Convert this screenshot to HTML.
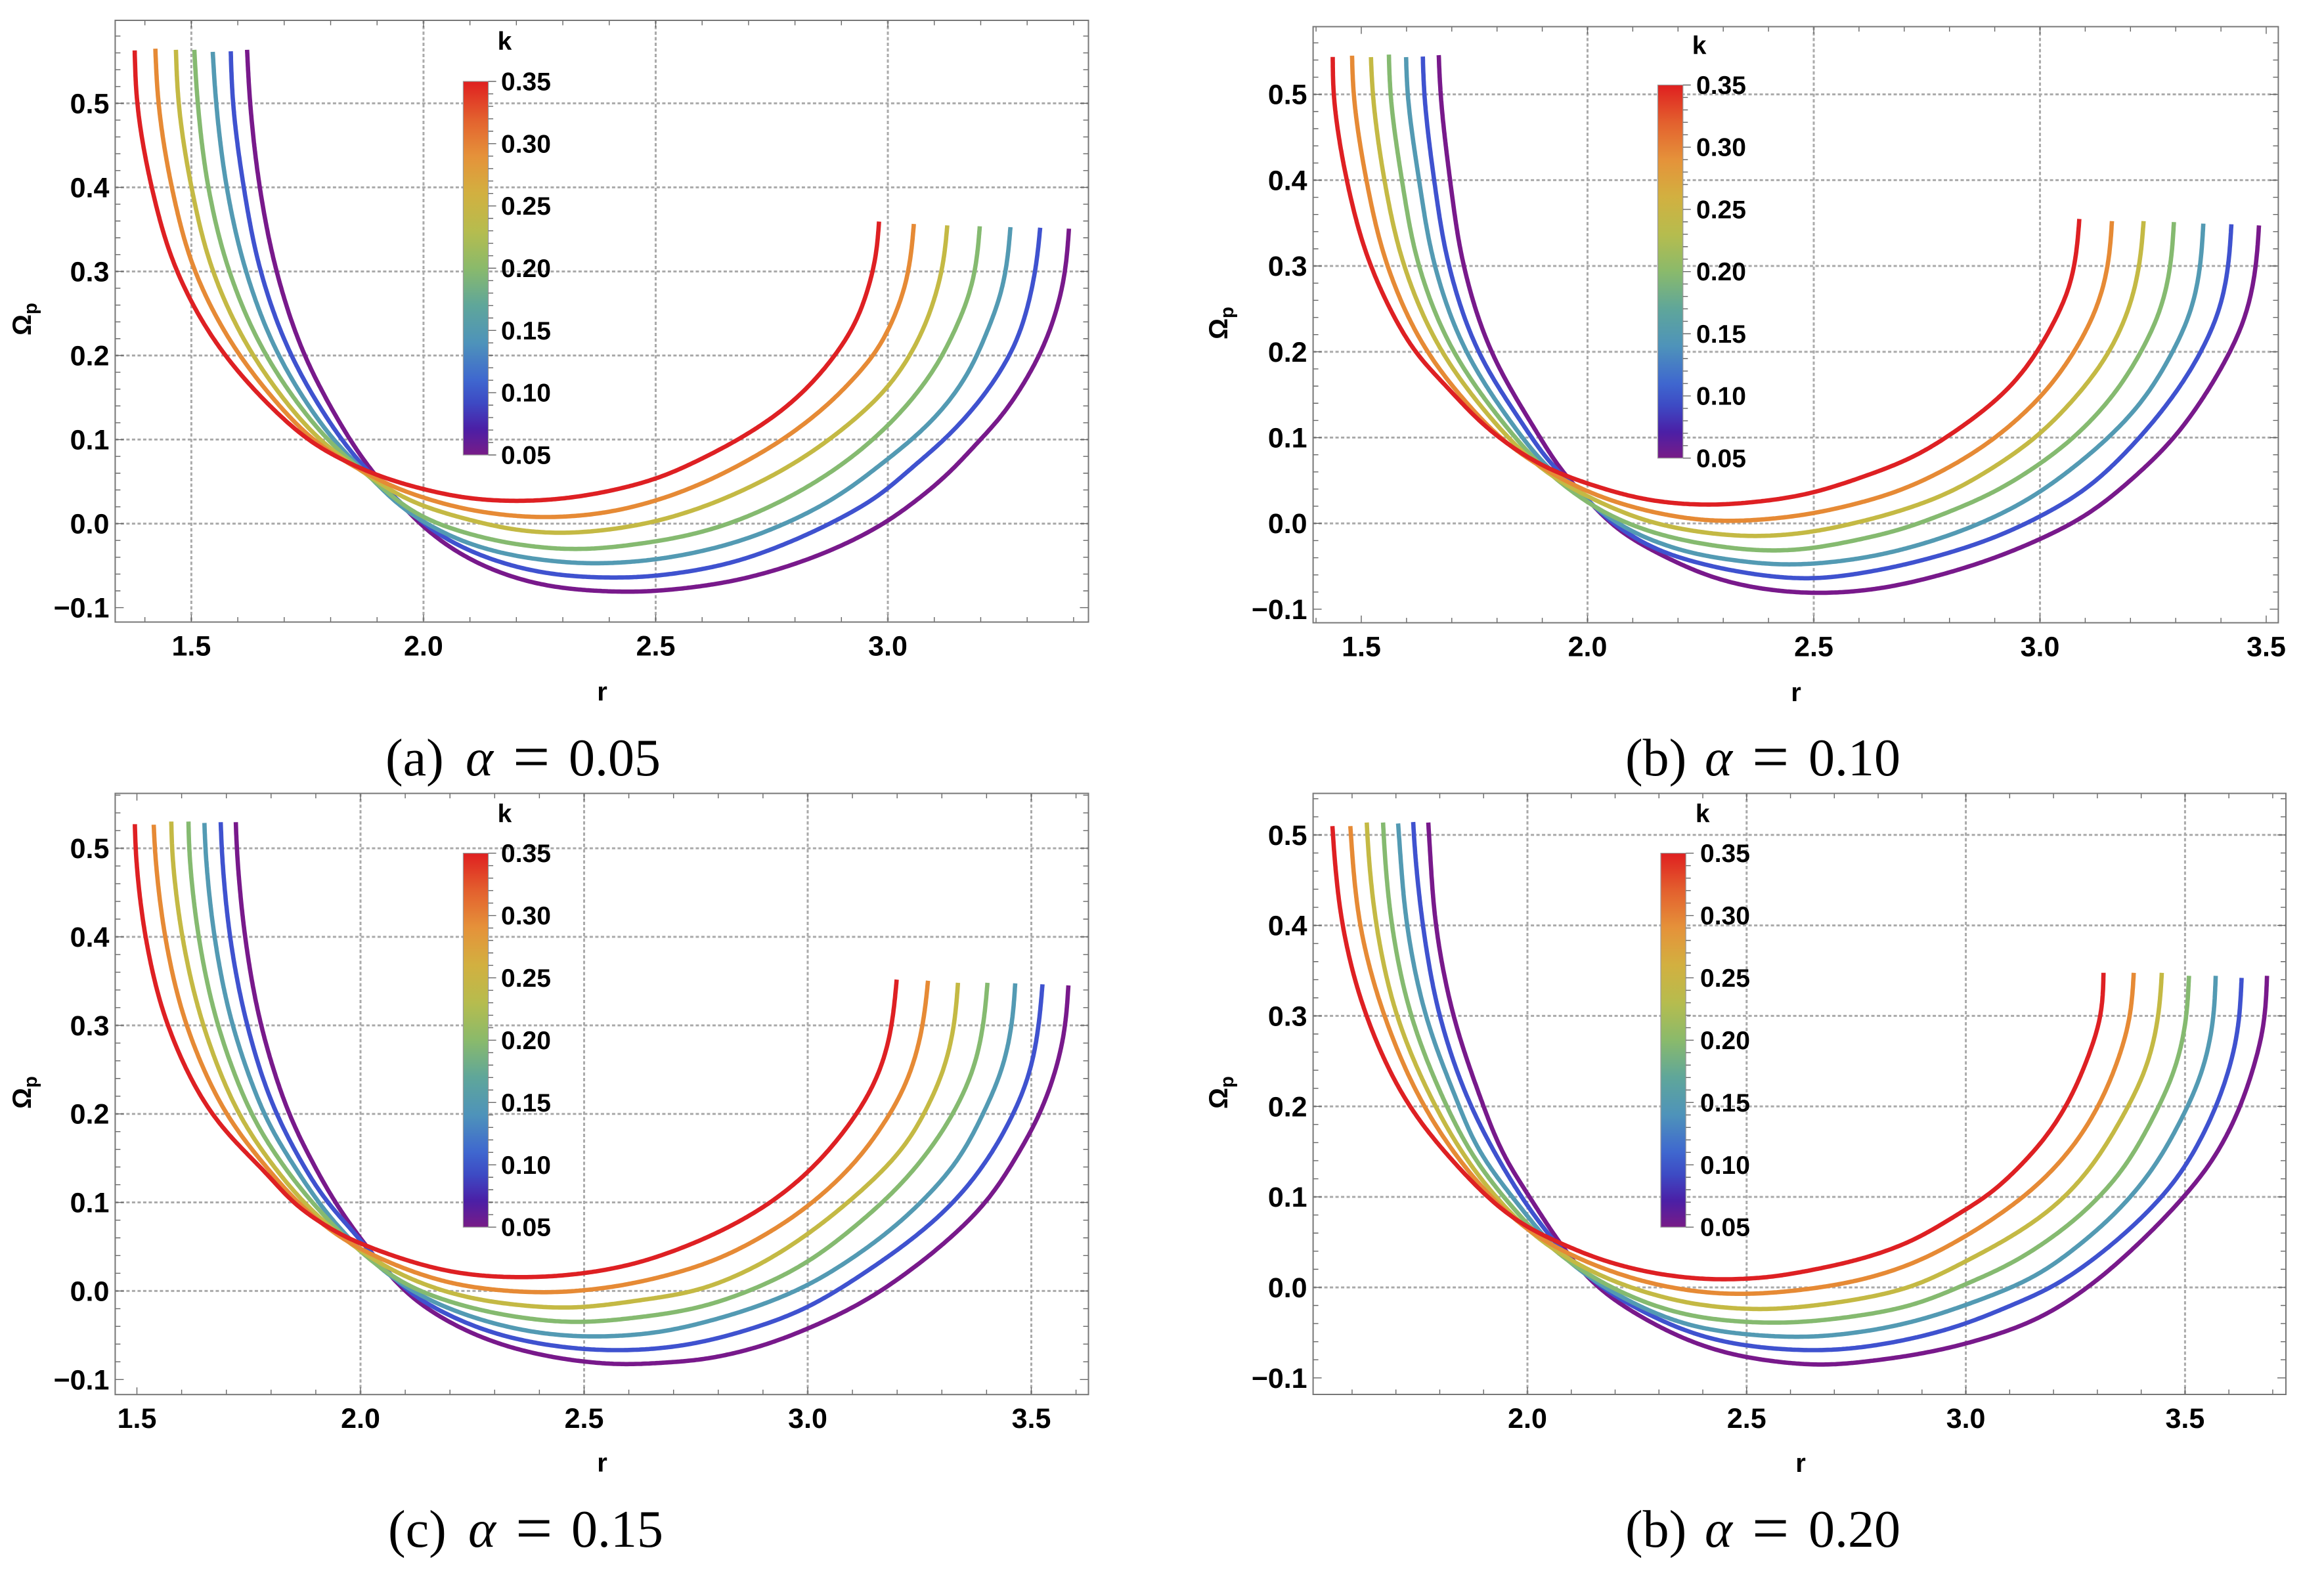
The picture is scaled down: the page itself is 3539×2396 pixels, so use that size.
<!DOCTYPE html>
<html lang="en">
<head>
<meta charset="utf-8">
<title>Omega_p versus r for several alpha values</title>
<style>
html,body{margin:0;padding:0;background:#fff;}
svg{display:block;}
.tick-label{font-family:"Liberation Sans",sans-serif;font-weight:700;font-size:43px;fill:#000;}
.bar-label{font-family:"Liberation Sans",sans-serif;font-weight:700;font-size:39px;fill:#000;}
.axis-label{font-family:"Liberation Sans",sans-serif;font-weight:700;font-size:40px;fill:#000;}
.caption{font-family:"Liberation Serif",serif;font-size:80px;fill:#000;}
.eq{font-size:100px;}
</style>
</head>
<body>
<svg id="figure" xmlns="http://www.w3.org/2000/svg" width="3539" height="2396" viewBox="0 0 3539 2396">
<defs>
<linearGradient id="rainbow" x1="0" y1="0" x2="0" y2="1">
<stop offset="0" stop-color="#DF1F20"/>
<stop offset="0.1" stop-color="#E3602E"/>
<stop offset="0.2" stop-color="#E5923A"/>
<stop offset="0.3" stop-color="#D2B040"/>
<stop offset="0.4" stop-color="#B6BC4E"/>
<stop offset="0.5" stop-color="#8ABA6B"/>
<stop offset="0.6" stop-color="#5FA69A"/>
<stop offset="0.7" stop-color="#4E93BA"/>
<stop offset="0.8" stop-color="#3F67CF"/>
<stop offset="0.86" stop-color="#3D4AC4"/>
<stop offset="0.93" stop-color="#4B1FA6"/>
<stop offset="1" stop-color="#781C87"/>
</linearGradient>
</defs>
<text class="caption" y="1181"><tspan x="587">(a)</tspan><tspan x="709" font-style="italic">α</tspan><tspan class="eq" x="781" dy="5">=</tspan><tspan x="866" dy="-5">0.05</tspan></text>
<text class="caption" y="1181"><tspan x="2475">(b)</tspan><tspan x="2596" font-style="italic">α</tspan><tspan class="eq" x="2668" dy="5">=</tspan><tspan x="2754" dy="-5">0.10</tspan></text>
<text class="caption" y="2356"><tspan x="591">(c)</tspan><tspan x="713" font-style="italic">α</tspan><tspan class="eq" x="785" dy="5">=</tspan><tspan x="870" dy="-5">0.15</tspan></text>
<text class="caption" y="2356"><tspan x="2475">(b)</tspan><tspan x="2596" font-style="italic">α</tspan><tspan class="eq" x="2668" dy="5">=</tspan><tspan x="2754" dy="-5">0.20</tspan></text>
</svg>
<script>
const kValues=[0.05,0.10,0.15,0.20,0.25,0.30,0.35];
const barTicks=[0.05,0.10,0.15,0.20,0.25,0.30,0.35];
const yTicks=[-0.1,0,0.1,0.2,0.3,0.4,0.5];
const yGridA=[0,0.1,0.2,0.3,0.4,0.5];

const xTicksA=[1.5,2,2.5,3];
const xGridA=[1.5,2,2.5,3];
const xTicksB=[1.5,2,2.5,3,3.5];
const xGridB=[2,2.5,3];
const xTicksC=[1.5,2,2.5,3,3.5];
const xGridC=[2,2.5,3,3.5];
const xTicksD=[2,2.5,3,3.5];
const xGridD=[2,2.5,3,3.5];

// Panel A (alpha = 0.05)
const rA05=[1.6201,1.6264,1.6471,1.6832,1.7436,1.8411,1.896,1.95,2.0,2.085,2.185,2.284,2.433,2.502,2.66,2.786,2.894,2.995,3.058,3.134,3.197,3.235,3.292,3.336,3.367,3.383,3.39];
const wA05=[.5636,.5,.4,.3,.2,.1,.057,.024,-.0048,-.0384,-.0627,-.0758,-.0814,-.0803,-.0692,-.0507,-.028,.0009,.026,.0608,.0992,.1202,.1655,.2108,.2596,.3014,.3509];
const rA10=[1.5849,1.5894,1.6128,1.6489,1.7148,1.823,1.896,1.95,2.0,2.085,2.185,2.284,2.413,2.502,2.66,2.786,2.894,2.989,3.039,3.121,3.191,3.241,3.279,3.307,3.322,3.328];
const wA10=[.5619,.5,.4,.3,.2,.1,.053,.026,-.001,-.0291,-.0496,-.0608,-.0645,-.0623,-.0473,-.0228,.0051,.0358,.0608,.0992,.1411,.1794,.2178,.2701,.3154,.352];
const rA15=[1.5461,1.5533,1.5759,1.6174,1.6877,1.805,1.896,1.936,2.0,2.085,2.185,2.284,2.363,2.502,2.66,2.786,2.894,2.995,3.058,3.121,3.178,3.216,3.241,3.257,3.264];
const wA15=[.5612,.5,.4,.3,.2,.1,.05,.026,.0016,-.0216,-.0373,-.0451,-.0477,-.0427,-.0245,.0016,.033,.0748,.1027,.1376,.1829,.2317,.2666,.3084,.3527];
const rA20=[1.5064,1.5136,1.5362,1.5813,1.6607,1.7923,1.896,1.936,2.0,2.085,2.185,2.333,2.502,2.597,2.692,2.805,2.913,3.001,3.058,3.108,3.146,3.175,3.191,3.198];
const wA20=[.5636,.5,.4,.3,.2,.1,.0505,.0295,.0064,-.0104,-.0235,-.0309,-.0211,-.0106,.0068,.0365,.0748,.1167,.1515,.1899,.2317,.2701,.3084,.3537];
const rA25=[1.4668,1.4721,1.5001,1.5461,1.6327,1.7752,1.896,1.936,2.0,2.085,2.185,2.284,2.383,2.502,2.616,2.723,2.818,2.913,2.995,3.045,3.083,3.108,3.121,3.128];
const wA25=[.5636,.5,.4,.3,.2,.1,.052,.0363,.0203,.0064,-.0066,-.0115,-.0085,.0027,.0225,.0487,.0783,.1167,.1585,.1968,.2387,.2805,.3119,.3548];
const rA30=[1.4225,1.4288,1.4577,1.5073,1.6038,1.7599,1.83,1.896,1.936,2.0,2.085,2.234,2.383,2.502,2.597,2.692,2.786,2.881,2.932,2.976,3.017,3.039,3.0504,3.056];
const wA30=[.565,.5,.4,.3,.2,.1,.0745,.054,.0428,.0307,.0176,.0075,.012,.0274,.0469,.073,.1044,.1463,.1759,.2038,.2491,.284,.3189,.3565];
const rA35=[1.378,1.3828,1.4144,1.4685,1.5723,1.7491,1.83,1.896,1.936,2.0,2.085,2.199,2.333,2.502,2.597,2.692,2.78,2.846,2.894,2.932,2.951,2.968,2.974,2.981];
const wA35=[.5629,.5,.4,.3,.2,.1,.0745,.058,.0505,.0408,.0307,.0266,.0318,.0532,.0765,.1044,.1376,.1724,.2056,.2387,.2666,.2997,.3101,.3593];

// Panel B (alpha = 0.10)
const rB05=[1.6712,1.6749,1.6962,1.726,1.7869,1.8952,1.9486,1.9728,2.003,2.057,2.093,2.153,2.274,2.394,2.524,2.656,2.795,2.899,3.0,3.107,3.218,3.295,3.361,3.42,3.455,3.477,3.484];
const wB05=[.5457,.5,.4,.3,.2,.1,.056,.0435,.026,-.004,-.0168,-.0343,-.0628,-.0771,-.0814,-.0752,-.058,-.0404,-.0185,.0108,.0584,.0986,.1462,.1993,.2414,.2962,.3472];
const rB10=[1.636,1.6388,1.661,1.6934,1.7582,1.8767,1.9126,1.9728,2.003,2.045,2.093,2.153,2.274,2.394,2.5,2.656,2.795,2.899,3.0,3.107,3.218,3.302,3.35,3.395,3.416,3.423];
const wB10=[.5441,.5,.4,.3,.2,.1,.072,.0419,.026,.0038,-.0136,-.0311,-.0501,-.0612,-.0647,-.0533,-.035,-.0167,.0079,.0419,.0986,.1535,.1938,.245,.2962,.3486];
const rB15=[1.599,1.6018,1.6277,1.662,1.7314,1.8555,1.9126,1.9728,2.003,2.045,2.093,2.2135,2.334,2.442,2.587,2.691,2.795,2.899,3.0,3.149,3.232,3.291,3.333,3.354,3.361];
const wB15=[.5434,.5,.4,.3,.2,.1,.0641,.0372,.0245,.007,-.0088,-.0327,-.0438,-.0485,-.0423,-.0313,-.0148,.0071,.0364,.0986,.1462,.1974,.245,.2962,.3494];
const rB20=[1.561,1.5639,1.5898,1.6268,1.7036,1.8397,1.9126,1.9728,2.033,2.123,2.2135,2.304,2.388,2.483,2.587,2.691,2.795,2.899,3.0,3.08,3.166,3.225,3.267,3.289,3.296];
const wB20=[.5464,.5,.4,.3,.2,.1,.0594,.034,.0134,-.0073,-.02,-.0279,-.032,-.0302,-.0203,-.0075,.0126,.0364,.0693,.1023,.1517,.2011,.2487,.2999,.3511];
const rB25=[1.5213,1.525,1.5509,1.5943,1.6777,1.824,1.9126,1.9728,2.033,2.123,2.2135,2.352,2.483,2.587,2.691,2.795,2.899,3.0,3.107,3.159,3.201,3.222,3.229];
const wB25=[.5434,.5,.4,.3,.2,.1,.0578,.0387,.0229,.0038,-.0073,-.0152,-.0111,-.0002,.0145,.0346,.0657,.1041,.1645,.2048,.256,.3071,.3523];
const rB30=[1.4796,1.4824,1.5111,1.5573,1.6453,1.804,1.8645,1.9486,2.003,2.093,2.2135,2.31,2.424,2.483,2.587,2.691,2.795,2.899,3.0,3.045,3.094,3.132,3.153,3.159];
const wB30=[.5451,.5,.4,.3,.2,.1006,.0768,.0498,.0362,.0197,.0061,.0023,.0061,.0101,.0218,.0382,.0639,.0986,.1462,.1755,.2157,.2596,.3071,.3523];
const rB35=[1.4369,1.438,1.4676,1.5204,1.6176,1.684,1.756,1.822,1.8825,1.9486,2.003,2.069,2.153,2.274,2.364,2.483,2.621,2.726,2.809,2.885,2.948,3.0,3.031,3.066,3.081,3.087];
const wB35=[.5436,.5,.4,.3,.2,.1624,.1212,.0927,.072,.0555,.046,.0349,.0254,.0213,.0245,.0335,.0565,.0785,.1059,.1352,.1663,.2048,.234,.2742,.3146,.3548];

// Panel C (alpha = 0.15)
const rC05=[1.7211,1.723,1.7417,1.7774,1.84,1.8977,1.9431,2.008,2.101,2.188,2.304,2.449,2.595,2.662,2.761,2.892,3.001,3.121,3.22,3.318,3.403,3.475,3.521,3.56,3.577,3.583];
const wC05=[.5295,.5,.4,.3,.2,.1404,.1,.0539,-.0018,-.0326,-.059,-.0766,-.0834,-.0813,-.078,-.0631,-.0425,-.0134,.0197,.0594,.1025,.1587,.2018,.2581,.3011,.3451];
const rC10=[1.6874,1.6892,1.708,1.7465,1.8119,1.9243,1.9557,2.008,2.101,2.188,2.304,2.449,2.56,2.662,2.761,2.892,3.001,3.154,3.252,3.331,3.403,3.462,3.498,3.518,3.525];
const wC10=[.5295,.5,.4,.3,.2,.1,.0832,.0525,.0011,-.0253,-.0488,-.0634,-.0672,-.0654,-.0581,-.0399,-.0184,.0296,.066,.1025,.1488,.2018,.2481,.3044,.3464];
const rC15=[1.6509,1.6527,1.6733,1.7137,1.7838,1.8106,1.9056,1.9267,2.008,2.101,2.217,2.362,2.5,2.662,2.761,2.892,3.001,3.088,3.187,3.265,3.338,3.397,3.436,3.458,3.464];
const wC15=[.5286,.5,.4,.3,.2,.174,.1,.0861,.0421,.004,-.0239,-.0444,-.0517,-.0472,-.0366,-.0167,.0065,.0329,.0694,.1058,.1488,.2051,.2514,.3044,.3474];
const rC20=[1.6153,1.6162,1.6378,1.6809,1.7557,1.8106,1.8915,2.008,2.101,2.217,2.333,2.478,2.623,2.761,2.892,3.001,3.121,3.206,3.272,3.331,3.374,3.395,3.402];
const wC20=[.5302,.5,.4,.3,.2,.1535,.1,.0407,.0069,-.015,-.0282,-.0356,-.0297,-.0184,.0048,.0329,.0793,.119,.1587,.2051,.2547,.3077,.3481];
const rC25=[1.5769,1.5778,1.6013,1.6481,1.7276,1.8106,1.8728,1.95,2.008,2.101,2.217,2.333,2.449,2.5,2.623,2.761,2.892,3.001,3.088,3.154,3.22,3.269,3.308,3.33,3.336];
const wC25=[.5302,.5,.4,.3,.2,.1374,.1,.0641,.0421,.0157,-.0048,-.015,-.0194,-.0186,-.0106,.0015,.0296,.0644,.0991,.1289,.1653,.2084,.2547,.3077,.3481];
const rC30=[1.5376,1.5395,1.5629,1.6106,1.6996,1.8106,1.8587,1.9557,2.008,2.101,2.217,2.391,2.5,2.623,2.793,2.925,3.001,3.062,3.121,3.174,3.206,3.242,3.262,3.269];
const wC30=[.5266,.5,.4,.3,.2,.1272,.1,.0597,.0451,.0245,.0069,-.0018,.0005,.0099,.0346,.0693,.0958,.1223,.1538,.1918,.2183,.2646,.3143,.3504];
const rC35=[1.4954,1.4964,1.5189,1.5685,1.6668,1.8106,1.8447,1.8977,1.9557,2.008,2.101,2.217,2.362,2.5,2.623,2.748,2.839,2.925,2.997,3.056,3.108,3.144,3.177,3.193,3.199];
const wC35=[.5272,.5,.4,.3,.2,.1219,.1,.0817,.0627,.0518,.0348,.0201,.0152,.0198,.0319,.0544,.076,.1024,.1322,.1637,.1985,.2282,.2713,.3176,.3517];

// Panel D (alpha = 0.20)
const rD05=[1.7738,1.7757,1.791,1.8311,1.8999,1.945,2.005,2.07,2.153,2.271,2.39,2.5,2.674,2.761,2.881,3.0,3.161,3.282,3.402,3.498,3.562,3.618,3.658,3.681,3.687];
const wD05=[.5137,.5,.4,.3,.2,.1461,.1,.0515,.0027,-.036,-.0632,-.0775,-.0861,-.0826,-.0748,-.0623,-.0356,.0012,.0519,.1003,.1394,.1901,.2453,.2914,.3443];
const rD10=[1.7394,1.7404,1.7614,1.7996,1.8712,1.9859,2.07,2.153,2.271,2.39,2.5,2.644,2.745,2.881,3.0,3.105,3.201,3.322,3.426,3.49,3.554,3.598,3.622,3.629];
const wD10=[.5143,.5,.4,.3,.2,.1,.0457,.0056,-.0288,-.0531,-.0646,-.0698,-.0675,-.0563,-.0402,-.0195,.0012,.0427,.0888,.1256,.1809,.2361,.2868,.342];
const rD15=[1.705,1.7069,1.7251,1.768,1.8445,1.886,2.005,2.07,2.153,2.271,2.39,2.615,2.761,2.881,3.0,3.161,3.266,3.346,3.426,3.494,3.538,3.564,3.57];
const wD15=[.5127,.5,.4,.3,.2,.1532,.0758,.0386,.007,-.0245,-.0445,-.0551,-.0494,-.0379,-.0195,.0128,.0496,.0841,.1302,.1878,.2361,.2914,.3443];
const rD20=[1.6707,1.6716,1.6907,1.7346,1.8158,1.886,2.005,2.07,2.153,2.271,2.39,2.556,2.64,2.761,2.881,3.0,3.105,3.201,3.282,3.362,3.43,3.474,3.502,3.509];
const wD20=[.5137,.5,.4,.3,.2,.1375,.0672,.0372,.0099,-.0173,-.0331,-.0394,-.0379,-.031,-.0195,.0036,.0266,.0565,.0888,.1325,.1901,.2361,.2914,.3443];
const rD25=[1.6335,1.6343,1.6553,1.7021,1.79,1.886,2.005,2.07,2.153,2.271,2.39,2.538,2.64,2.761,2.881,3.0,3.105,3.201,3.282,3.37,3.414,3.44,3.447];
const wD25=[.5137,.5,.4,.3,.2,.1246,.0615,.0386,.0157,-.0059,-.0193,-.0245,-.0209,-.0126,.0012,.0289,.0565,.0888,.1302,.1993,.2453,.3001,.3476];
const rD30=[1.5961,1.5971,1.6181,1.6735,1.7642,1.886,2.005,2.07,2.153,2.271,2.39,2.5,2.64,2.761,2.881,3.0,3.081,3.161,3.241,3.302,3.35,3.376,3.383];
const wD30=[.5098,.5,.4,.3,.2,.116,.0615,.0429,.0243,.0056,-.005,-.0076,-.002,.0082,.0266,.0565,.0818,.1118,.1532,.1993,.2545,.3001,.3476];
const rD35=[1.5551,1.556,1.578,1.6324,1.7308,1.886,1.945,2.005,2.07,2.153,2.271,2.39,2.449,2.56,2.64,2.761,2.881,3.0,3.049,3.121,3.185,3.241,3.286,3.31,3.314];
const wD35=[.5098,.5,.4,.3,.2,.1103,.0844,.0644,.05,.0328,.0171,.0093,.0085,.0114,.0183,.0312,.0519,.0864,.1003,.1325,.1671,.2107,.2637,.3001,.3476];

const lineColors=['#78198B','#3F52CF','#539AB3','#85BA70','#C4B944','#E68A35','#DE2023'];

const panels=[
 {id:'a',box:[175.4,1657.5,31,947.5],rDom:[1.336,3.432],wDom:[-0.1171,0.5987],
  bar:[705.4,743.6,124,693],barLabelX:763,kX:768.5,kY:76,rX:917,rY:1067,omX:47,omY:511,
  xTicks:xTicksA,xGrid:xGridA,
  rs:[rA05,rA10,rA15,rA20,rA25,rA30,rA35],ws:[wA05,wA10,wA15,wA20,wA25,wA30,wA35]},
 {id:'b',box:[1999.6,3469.4,40.6,948.6],rDom:[1.3935,3.5267],wDom:[-0.1158,0.5789],
  bar:[2524.5,2562.8,129.5,697.8],barLabelX:2583,kX:2587.6,kY:82.6,rX:2735,rY:1068,omX:1869,omY:517,
  xTicks:xTicksB,xGrid:xGridB,
  rs:[rB05,rB10,rB15,rB20,rB25,rB30,rB35],ws:[wB05,wB10,wB15,wB20,wB25,wB30,wB35]},
 {id:'c',box:[175.4,1657.5,1208.5,2124.2],rDom:[1.4514,3.6278],wDom:[-0.117,0.562],
  bar:[705.4,743.6,1299.6,1869.2],barLabelX:763,kX:768.5,kY:1252.7,rX:917,rY:2241.7,omX:47,omY:1689,
  xTicks:xTicksC,xGrid:xGridC,
  rs:[rC05,rC10,rC15,rC20,rC25,rC30,rC35],ws:[wC05,wC10,wC15,wC20,wC25,wC30,wC35]},
 {id:'d',box:[1999.6,3481,1208.5,2124],rDom:[1.5111,3.7301],wDom:[-0.1183,0.5459],
  bar:[2529,2567.2,1299.6,1869.2],barLabelX:2589,kX:2592.7,kY:1252.7,rX:2742,rY:2242,omX:1869,omY:1689,
  xTicks:xTicksD,xGrid:xGridD,
  rs:[rD05,rD10,rD15,rD20,rD25,rD30,rD35],ws:[wD05,wD10,wD15,wD20,wD25,wD30,wD35]}
];

const NS='http://www.w3.org/2000/svg';
const root=document.getElementById('figure');
function mk(tag,parent){
  const el=document.createElementNS(NS,tag);
  parent.appendChild(el);
  return el;
}
// Dense samples of a centripetal Catmull-Rom curve through the read points.
function splineSamples(pts){
  const out=[pts[0]];
  const dist=(a,b)=>Math.pow(Math.hypot(a[0]-b[0],a[1]-b[1]),0.5);
  for(let i=0;i<pts.length-1;i++){
    const p0=pts[i>0?i-1:i],p1=pts[i],p2=pts[i+1],p3=pts[i+2<pts.length?i+2:i+1];
    const d1=dist(p0,p1),d2=dist(p1,p2),d3=dist(p2,p3);
    let c1=p1,c2=p2;
    if(d1>0){
      const n=3*d1*(d1+d2),m=2*d1*d1+3*d1*d2+d2*d2;
      c1=[(d1*d1*p2[0]-d2*d2*p0[0]+m*p1[0])/n,(d1*d1*p2[1]-d2*d2*p0[1]+m*p1[1])/n];
    }
    if(d3>0){
      const n=3*d3*(d3+d2),m=2*d3*d3+3*d3*d2+d2*d2;
      c2=[(d3*d3*p1[0]-d2*d2*p3[0]+m*p2[0])/n,(d3*d3*p1[1]-d2*d2*p3[1]+m*p2[1])/n];
    }
    for(let s=1;s<=20;s++){
      const t=s/20,u=1-t;
      out.push([
        u*u*u*p1[0]+3*u*u*t*c1[0]+3*u*t*t*c2[0]+t*t*t*p2[0],
        u*u*u*p1[1]+3*u*u*t*c1[1]+3*u*t*t*c2[1]+t*t*t*p2[1]
      ]);
    }
  }
  return out;
}
function resample(poly,step){
  const out=[poly[0]];
  let need=step;
  for(let i=1;i<poly.length;i++){
    let a=poly[i-1];
    const b=poly[i];
    let len=Math.hypot(b[0]-a[0],b[1]-a[1]);
    while(len>=need&&len>0){
      const f=need/len;
      a=[a[0]+(b[0]-a[0])*f,a[1]+(b[1]-a[1])*f];
      out.push(a);
      len-=need;
      need=step;
    }
    need-=len;
  }
  out.push(poly[poly.length-1]);
  return out;
}
// Gaussian smoothing along arc length; odd reflection pins the ends and their tangents.
function smoothCurve(poly,sigma,step){
  const n=poly.length,rad=Math.ceil(3*sigma/step);
  const weights=[];
  let total=0;
  for(let k=-rad;k<=rad;k++){
    const w=Math.exp(-0.5*Math.pow(k*step/sigma,2));
    weights.push(w);
    total+=w;
  }
  const at=function(j){
    if(j<0){
      const q=poly[Math.min(-j,n-1)];
      return [2*poly[0][0]-q[0],2*poly[0][1]-q[1]];
    }
    if(j>=n){
      const q=poly[Math.max(2*(n-1)-j,0)];
      return [2*poly[n-1][0]-q[0],2*poly[n-1][1]-q[1]];
    }
    return poly[j];
  };
  const out=[];
  for(let i=0;i<n;i++){
    let sx=0,sy=0;
    for(let k=-rad;k<=rad;k++){
      const q=at(i+k),w=weights[k+rad];
      sx+=q[0]*w;sy+=q[1]*w;
    }
    out.push([sx/total,sy/total]);
  }
  return out;
}
function curvePath(pts){
  const step=3;
  const dense=smoothCurve(resample(splineSamples(pts),step),30,step);
  let d='';
  dense.forEach(function(q,i){
    d+=(i?'L':'M')+q[0].toFixed(1)+' '+q[1].toFixed(1);
  });
  return d;
}
panels.forEach(function(p){
  const L=p.box[0],R=p.box[1],T=p.box[2],B=p.box[3];
  const xScale=r=>L+(r-p.rDom[0])/(p.rDom[1]-p.rDom[0])*(R-L);
  const yScale=w=>B-(w-p.wDom[0])/(p.wDom[1]-p.wDom[0])*(B-T);
  const g=mk('g',root);
  
  

  // grid
  p.xGrid.forEach(function(v){
    const ln=mk('line',g);
    ln.setAttribute('x1',xScale(v));ln.setAttribute('x2',xScale(v));
    ln.setAttribute('y1',T);ln.setAttribute('y2',B);
    ln.setAttribute('stroke','#aaaaaa');ln.setAttribute('stroke-width','3');
    ln.setAttribute('stroke-dasharray','5 3.5');
    
    
  });
  yGridA.forEach(function(v){
    const ln=mk('line',g);
    ln.setAttribute('x1',L);ln.setAttribute('x2',R);
    ln.setAttribute('y1',yScale(v));ln.setAttribute('y2',yScale(v));
    ln.setAttribute('stroke','#aaaaaa');ln.setAttribute('stroke-width','3');
    ln.setAttribute('stroke-dasharray','5 3.5');
    
    
  });

  // frame ticks
  let td='';
  for(let i=Math.ceil(p.rDom[0]*10);i<=Math.floor(p.rDom[1]*10);i++){
    const x=xScale(i/10).toFixed(2),len=(i%5===0)?11:7.5;
    td+='M'+x+' '+B+'V'+(B-len)+'M'+x+' '+T+'V'+(T+len);
  }
  for(let j=Math.ceil(p.wDom[0]*50);j<=Math.floor(p.wDom[1]*50);j++){
    const y=yScale(j/50).toFixed(2),len=(j%5===0)?13:8;
    td+='M'+L+' '+y+'H'+(L+len)+'M'+R+' '+y+'H'+(R-len);
  }
  const ticks=mk('path',g);
  ticks.setAttribute('d',td);
  ticks.setAttribute('fill','none');
  ticks.setAttribute('stroke','#666666');
  ticks.setAttribute('stroke-width','1.4');
  
  

  const frame=mk('rect',g);
  frame.setAttribute('x',L);frame.setAttribute('y',T);
  frame.setAttribute('width',R-L);frame.setAttribute('height',B-T);
  frame.setAttribute('fill','none');frame.setAttribute('stroke','#777777');frame.setAttribute('stroke-width','2');
  
  

  // tick labels
  p.xTicks.forEach(function(v){
    const t=mk('text',g);
    t.setAttribute('class','tick-label');
    t.setAttribute('x',xScale(v));t.setAttribute('y',B+51);
    t.setAttribute('text-anchor','middle');
    t.textContent=v.toFixed(1);
    
    
  });
  yTicks.forEach(function(v){
    const t=mk('text',g);
    t.setAttribute('class','tick-label');
    t.setAttribute('x',L-9);t.setAttribute('y',yScale(v)+15);
    t.setAttribute('text-anchor','end');
    t.textContent=v.toFixed(1).replace('-','\u2212');
    
    
  });

  // curves
  p.rs.forEach(function(rv,s){
    const wv=p.ws[s];
    const pts=rv.map((r,i)=>[xScale(r),yScale(wv[i])]);
    const c=mk('path',g);
    c.setAttribute('d',curvePath(pts));
    c.setAttribute('fill','none');
    c.setAttribute('stroke',lineColors[s]);
    c.setAttribute('stroke-width','6.6');
    c.setAttribute('stroke-linejoin','round');
    
    
  });

  // colour bar
  const bx1=p.bar[0],bx2=p.bar[1],by1=p.bar[2],by2=p.bar[3];
  const kScale=k=>by2-(k-0.05)/0.30*(by2-by1);
  const bar=mk('rect',g);
  bar.setAttribute('x',bx1);bar.setAttribute('y',by1);
  bar.setAttribute('width',bx2-bx1);bar.setAttribute('height',by2-by1);
  bar.setAttribute('fill','url(#rainbow)');
  bar.setAttribute('stroke','#999999');bar.setAttribute('stroke-width','1.2');
  
  
  let bd='';
  for(let i=5;i<=35;i++){
    bd+='M'+bx2+' '+kScale(i/100).toFixed(2)+'h'+((i%5===0)?12:7.5);
  }
  const bt=mk('path',g);
  bt.setAttribute('d',bd);
  bt.setAttribute('fill','none');
  bt.setAttribute('stroke','#666666');
  bt.setAttribute('stroke-width','1.4');
  
  
  barTicks.forEach(function(v){
    const t=mk('text',g);
    t.setAttribute('class','bar-label');
    t.setAttribute('x',p.barLabelX);t.setAttribute('y',kScale(v)+13.5);
    t.textContent=v.toFixed(2);
    
    
  });
  const kt=mk('text',g);
  kt.setAttribute('class','bar-label');
  kt.setAttribute('x',p.kX);kt.setAttribute('y',p.kY);
  kt.setAttribute('text-anchor','middle');
  kt.textContent='k';
  
  

  // axis titles
  const rt=mk('text',g);
  rt.setAttribute('class','axis-label');
  rt.setAttribute('x',p.rX);rt.setAttribute('y',p.rY);
  rt.setAttribute('text-anchor','middle');
  rt.textContent='r';
  
  
  const yt=mk('text',g);
  yt.setAttribute('class','axis-label');
  yt.setAttribute('transform','rotate(-90 '+p.omX+' '+p.omY+')');
  yt.setAttribute('x',p.omX);yt.setAttribute('y',p.omY);
  
  
  const om=mk('tspan',yt);
  om.textContent='\u03A9';
  const sub=mk('tspan',yt);
  sub.setAttribute('font-size','29');
  sub.setAttribute('dy','9');
  sub.textContent='p';
});
</script>
</body>
</html>
